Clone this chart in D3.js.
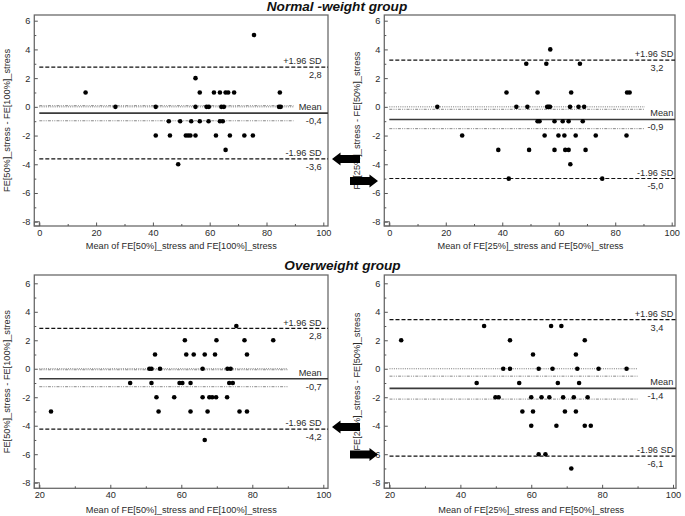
<!DOCTYPE html>
<html><head><meta charset="utf-8">
<script src="https://cdn.jsdelivr.net/npm/d3@7"></script>
<style>body{margin:0;background:#fff}svg{display:block;font-family:"Liberation Sans",Arial,sans-serif}</style>
</head><body><svg id="c" width="685" height="516"></svg>
<script>
// ---------- data ----------
const titles = ["Normal -weight group", "Overweight group"];
const xTitles = ["Mean of FE[50%]_stress and FE[100%]_stress", "Mean of FE[25%]_stress and FE[50%]_stress",
                 "Mean of FE[50%]_stress and FE[100%]_stress", "Mean of FE[25%]_stress and FE[50%]_stress"];
const yTitles = ["FE[50%]_stress - FE[100%]_stress", "FE[25%]_stress - FE[50%]_stress",
                 "FE[50%]_stress - FE[100%]_stress", "FE[25%]_stress - FE[50%]_stress"];
const yTicks = [-8, -6, -4, -2, 0, 2, 4, 6];
const xTicksTop = [0, 20, 40, 60, 80, 100];
const xTicksBottom = [20, 40, 60, 80, 100];

// Panel 1: Normal weight, FE50 vs FE100
const p1Mean = [75.6, 55.0,
  16.3, 56.5, 61.5, 63.6, 65.6, 66.5, 68.6, 84.7,
  26.8, 41.0, 55.0, 58.9, 59.7, 64.1, 65.0, 84.4, 85.0,
  45.6, 49.6, 53.5, 56.5, 59.6, 63.6, 64.6,
  41.0, 46.0, 51.6, 52.4, 53.2, 55.0, 62.2, 67.1, 72.2, 75.2,
  65.6, 48.9];
const p1Diff = [5, 2,
  1, 1, 1, 1, 1, 1, 1, 1,
  0, 0, 0, 0, 0, 0, 0, 0, 0,
  -1, -1, -1, -1, -1, -1, -1,
  -2, -2, -2, -2, -2, -2, -2, -2, -2, -2,
  -3, -4];
// Panel 2: Normal weight, FE25 vs FE50
const p2Mean = [57.0,
  48.5, 55.6, 67.5,
  41.5, 52.5, 64.4, 84.2, 85.1,
  17.0, 45.0, 48.9, 55.9, 56.4, 56.9, 64.0, 67.0, 69.0,
  52.5, 53.2, 58.5, 61.4, 63.5, 68.5,
  25.8, 55.0, 59.9, 62.0, 66.0, 73.1, 84.0,
  38.6, 49.5, 58.5, 62.3, 63.5, 69.5,
  64.1, 42.3, 75.4];
const p2Diff = [4,
  3, 3, 3,
  1, 1, 1, 1, 1,
  0, 0, 0, 0, 0, 0, 0, 0, 0,
  -1, -1, -1, -1, -1, -1,
  -2, -2, -2, -2, -2, -2, -2,
  -3, -3, -3, -3, -3, -3,
  -4, -5, -5];
// Panel 3: Overweight, FE50 vs FE100
const p3Mean = [75.5,
  61.0, 69.9, 77.8, 85.9,
  52.6, 61.4, 63.5, 66.6, 69.5, 78.5,
  51.0, 51.6, 54.0, 66.0, 73.0, 73.9,
  45.6, 51.6, 59.5, 60.3, 62.6, 73.5, 74.5,
  53.0, 58.0, 66.0, 67.9, 68.7, 69.8, 72.9,
  23.3, 53.6, 62.6, 67.4, 76.4, 78.5,
  66.6];
const p3Diff = [3,
  2, 2, 2, 2,
  1, 1, 1, 1, 1, 1,
  0, 0, 0, 0, 0, 0,
  -1, -1, -1, -1, -1, -1, -1,
  -2, -2, -2, -2, -2, -2, -2,
  -3, -3, -3, -3, -3, -3,
  -5];
// Panel 4: Overweight, FE25 vs FE50
const p4Mean = [46.7, 65.6, 68.5,
  23.3, 54.0, 75.1,
  60.5, 72.6,
  52.1, 54.0, 62.1, 66.0, 73.0, 79.0, 86.9,
  44.6, 56.6, 67.5, 73.5,
  49.9, 50.8, 60.0, 62.9, 65.1, 69.0, 72.0, 75.9,
  57.5, 60.5, 69.5, 72.6,
  60.0, 67.1, 75.1, 76.8,
  62.1, 64.0, 71.3];
const p4Diff = [3, 3, 3,
  2, 2, 2,
  1, 1,
  0, 0, 0, 0, 0, 0, 0,
  -1, -1, -1, -1,
  -2, -2, -2, -2, -2, -2, -2, -2,
  -3, -3, -3, -3,
  -4, -4, -4, -4,
  -6, -6, -7];

// Bland-Altman statistics per panel
const meanDiff = [-0.44, -0.88, -0.70, -1.38];
const upperLoA = [2.77, 3.25, 2.84, 3.45];
const lowerLoA = [-3.62, -4.99, -4.24, -6.13];
const ciUpper  = [0.08, -0.17, -0.07, -0.52];
const ciLower  = [-0.97, -1.52, -1.26, -2.13];
const upperText = ["2,8", "3,2", "2,8", "3,4"];
const meanText  = ["-0,4", "-0,9", "-0,7", "-1,4"];
const lowerText = ["-3,6", "-5,0", "-4,2", "-6,1"];
const lineExtentMax = [89.5, 90.5, 90, 90];

// ---------- layout ----------
const boxes = [
  {L: 34.3, R: 328, T: 15, B: 226, x0: 39.3, x1: 323.3, yTop: 20.7, yBot: 221.7, lblX: 321.7, valX: 321.7, xd: [0, 100], xt: xTicksTop, tp: 3},
  {L: 384.3, R: 675, T: 15, B: 226, x0: 389.3, x1: 671.7, yTop: 20.7, yBot: 221.7, lblX: 673.3, valX: 663.3, xd: [0, 100], xt: xTicksTop, tp: 3},
  {L: 34.3, R: 328, T: 275, B: 488.3, x0: 39.3, x1: 323.3, yTop: 283.3, yBot: 482.7, lblX: 321.7, valX: 321.7, xd: [20, 100], xt: xTicksBottom, tp: 3.5},
  {L: 384.3, R: 676, T: 275, B: 488.3, x0: 389.5, x1: 673, yTop: 283.3, yBot: 482.7, lblX: 673.3, valX: 663.3, xd: [20, 100], xt: xTicksBottom, tp: 3.5}
];
const panelsX = [p1Mean, p2Mean, p3Mean, p4Mean];
const panelsY = [p1Diff, p2Diff, p3Diff, p4Diff];

const svg = d3.select("#c");
svg.append("rect").attr("width", 685).attr("height", 516).attr("fill", "#fff");

const fs = 9.2;
const txtCol = "#2a2a2a";

boxes.forEach((b, i) => {
  const g = svg.append("g");
  const x = d3.scaleLinear().domain(b.xd).range([b.x0, b.x1]);
  const y = d3.scaleLinear().domain([-8, 6]).range([b.yBot, b.yTop]);

  // frame
  g.append("rect").attr("x", b.L).attr("y", b.T).attr("width", b.R - b.L).attr("height", b.B - b.T)
    .attr("fill", "none").attr("stroke", "#6a6a6a").attr("stroke-width", 1.3);
  // corner box
  g.append("rect").attr("x", b.L).attr("y", y(-8)).attr("width", x(b.xd[0]) - b.L).attr("height", b.B - y(-8))
    .attr("fill", "none").attr("stroke", "#6a6a6a").attr("stroke-width", 1);

  // y axis
  const ya = g.append("g").attr("transform", `translate(${b.L},0)`)
    .call(d3.axisLeft(y).tickValues(yTicks).tickSize(-3.5).tickPadding(4).tickFormat(d => String(d)));
  const ym = g.append("g").attr("transform", `translate(${b.L},0)`)
    .call(d3.axisLeft(y).tickValues([-7, -5, -3, -1, 1, 3, 5]).tickSize(-2).tickFormat(""));
  // x axis
  const minorX = d3.range(b.xd[0] + 10, b.xd[1], 20);
  const xa = g.append("g").attr("transform", `translate(0,${b.B})`)
    .call(d3.axisBottom(x).tickValues(b.xt).tickSize(-3.5).tickPadding(b.tp).tickFormat(d => String(d)));
  const xm = g.append("g").attr("transform", `translate(0,${b.B})`)
    .call(d3.axisBottom(x).tickValues(minorX).tickSize(-2).tickFormat(""));
  [ya, ym, xa, xm].forEach(a => {
    a.select(".domain").remove();
    a.selectAll("line").attr("stroke", "#555").attr("stroke-width", 1);
    a.selectAll("text").attr("fill", txtCol).style("font-size", fs + "px").style("font-family", '"Liberation Sans",Arial,sans-serif');
  });

  // line of equality (0) and CI of mean
  const xe0 = x(b.xd[0]), xe1 = x(lineExtentMax[i]);
  g.append("line").attr("x1", xe0).attr("x2", xe1).attr("y1", y(0)).attr("y2", y(0))
    .attr("stroke", "#777").attr("stroke-width", 1).attr("stroke-dasharray", "1,1.2");
  [ciUpper[i], ciLower[i]].forEach(v => {
    g.append("line").attr("x1", xe0).attr("x2", xe1).attr("y1", y(v)).attr("y2", y(v))
      .attr("stroke", "#888").attr("stroke-width", 1).attr("stroke-dasharray", "3,1.2,1,1.2,1,1.2");
  });
  // mean line
  g.append("line").attr("x1", xe0).attr("x2", b.R).attr("y1", y(meanDiff[i])).attr("y2", y(meanDiff[i]))
    .attr("stroke", "#3a3a3a").attr("stroke-width", 1.6);
  // limits of agreement
  [upperLoA[i], lowerLoA[i]].forEach(v => {
    g.append("line").attr("x1", xe0).attr("x2", b.R).attr("y1", y(v)).attr("y2", y(v))
      .attr("stroke", "#111").attr("stroke-width", 1.2).attr("stroke-dasharray", "4,2");
  });

  // labels on lines
  const lbl = (tx, xx, yy) => g.append("text").attr("x", xx).attr("y", yy).attr("text-anchor", "end")
    .attr("fill", txtCol).style("font-size", fs + "px").text(tx);
  lbl("+1.96 SD", b.lblX, y(upperLoA[i]) - 2.8);
  lbl(upperText[i], b.valX, y(upperLoA[i]) + 11);
  lbl("Mean", b.lblX, y(meanDiff[i]) - 3.2);
  lbl(meanText[i], b.valX, y(meanDiff[i]) + 10.8);
  lbl("-1.96 SD", b.lblX, y(lowerLoA[i]) - 2.8);
  lbl(lowerText[i], b.valX, y(lowerLoA[i]) + 11);

  // points
  g.selectAll("circle.pt").data(d3.zip(panelsX[i], panelsY[i])).join("circle")
    .attr("class", "pt").attr("cx", d => x(d[0])).attr("cy", d => y(d[1])).attr("r", 2.3).attr("fill", "#000");

  // axis titles
  g.append("text").attr("x", (b.x0 + b.x1) / 2).attr("y", b.B + (i < 2 ? 23 : 24.5)).attr("text-anchor", "middle")
    .attr("fill", txtCol).style("font-size", fs + "px").text(xTitles[i]);
  g.append("text").attr("transform", `translate(${b.L - 24},${(b.T + b.B) / 2}) rotate(-90)`)
    .attr("text-anchor", "middle").attr("fill", txtCol).style("font-size", fs + "px").text(yTitles[i]);
});

// group titles
svg.append("text").attr("x", 337).attr("y", 11).attr("text-anchor", "middle")
  .style("font-size", "13.6px").style("font-weight", "bold").style("font-style", "italic").attr("fill", "#111").text(titles[0]);
svg.append("text").attr("x", 342.5).attr("y", 270).attr("text-anchor", "middle")
  .style("font-size", "13.6px").style("font-weight", "bold").style("font-style", "italic").attr("fill", "#111").text(titles[1]);

// arrows (pointing at limits of agreement)
function arrow(yc, dir, tip, tail) {
  const hb = tip + dir * 8.5; // head base
  const hh = 6.5, bh = 4;
  const pts = [[tip, yc], [hb, yc - hh], [hb, yc - bh], [tail, yc - bh], [tail, yc + bh], [hb, yc + bh], [hb, yc + hh]];
  svg.append("path").attr("d", d3.line()(pts) + "Z").attr("fill", "#000");
}
arrow(159, 1, 332, 360);
arrow(181, -1, 378, 350);
arrow(427, 1, 332, 360);
arrow(454.5, -1, 378, 350);
</script>
</body></html>
